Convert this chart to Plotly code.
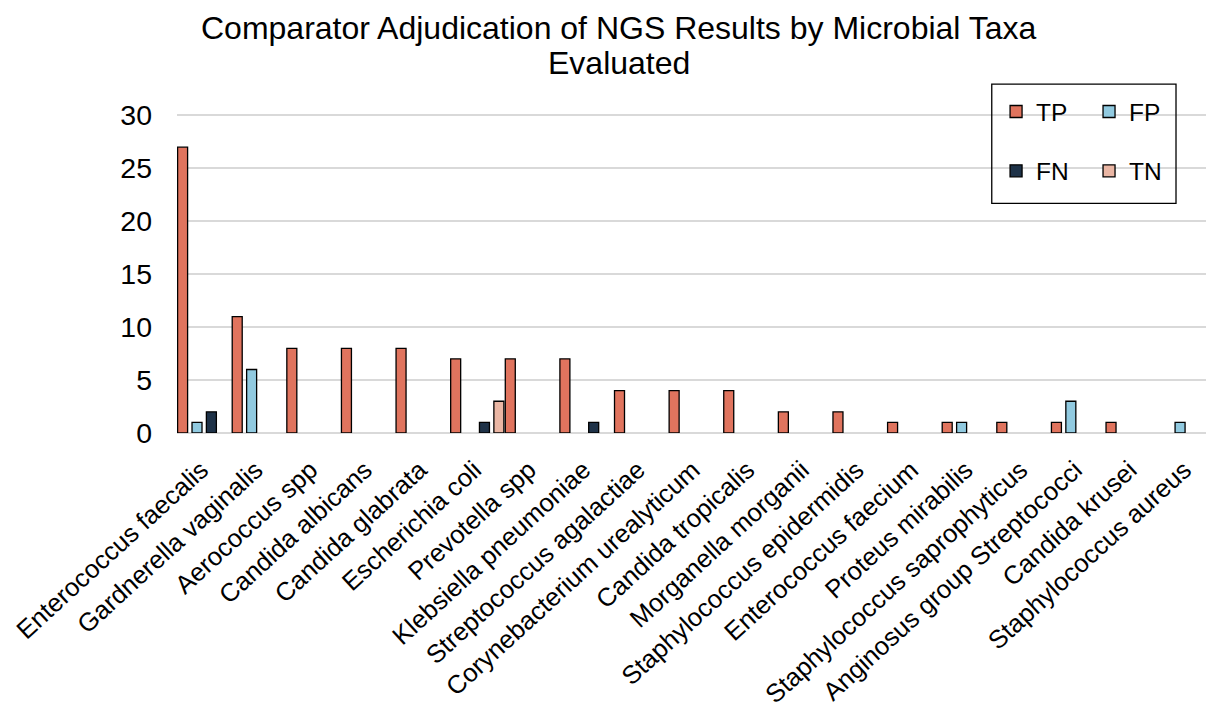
import plotly.graph_objects as go

categories = [
    "Enterococcus faecalis", "Gardnerella vaginalis", "Aerococcus spp",
    "Candida albicans", "Candida glabrata", "Escherichia coli",
    "Prevotella spp", "Klebsiella pneumoniae", "Streptococcus agalactiae",
    "Corynebacterium urealyticum", "Candida tropicalis", "Morganella morganii",
    "Staphylococcus epidermidis", "Enterococcus faecium", "Proteus mirabilis",
    "Staphylococcus saprophyticus", "Anginosus group Streptococci",
    "Candida krusei", "Staphylococcus aureus",
]
tp = [27, 11, 8, 8, 8, 7, 7, 7, 4, 4, 4, 2, 2, 1, 1, 1, 1, 1, 0]
fp = [1, 6, 0, 0, 0, 0, 0, 0, 0, 0, 0, 0, 0, 0, 1, 0, 3, 0, 1]
fn = [2, 0, 0, 0, 0, 1, 0, 1, 0, 0, 0, 0, 0, 0, 0, 0, 0, 0, 0]
tn = [0, 0, 0, 0, 0, 3, 0, 0, 0, 0, 0, 0, 0, 0, 0, 0, 0, 0, 0]
y_ticks = [0, 5, 10, 15, 20, 25, 30]
title_lines = ["Comparator Adjudication of NGS Results by Microbial Taxa", "Evaluated"]

FONT = "Liberation Sans, Arial, sans-serif"
W, H = 1206, 717
Y0PX, Y30PX = 432.7, 115.3
L, T, B = 176.7, 4.0, 717 - Y0PX
PW = W - L
PH = H - T - B
unit_px = (Y0PX - Y30PX) / 30
ymax = (Y0PX - T) / unit_px
cat_px = 54.63
xmax = -0.5 + PW / cat_px

series = [
    ("TP", tp, "#E0745E", -0.489, "legend"),
    ("FP", fp, "#91CAE0", -0.225, "legend2"),
    ("FN", fn, "#1E3248", 0.038, "legend"),
    ("TN", tn, "#EAB6A4", 0.302, "legend2"),
]

fig = go.Figure()
for name, vals, color, off, lg in series:
    fig.add_trace(go.Bar(
        x=categories, y=[v if v else None for v in vals], name=name,
        offset=off, width=0.183,
        marker=dict(color=color, line=dict(color="#000000", width=1.3)),
        legend=lg, legendgroup=name,
    ))

def px2x(p):
    return (p - L) / PW

def px2y(p):
    return (Y0PX - p) / PH

fig.update_layout(
    width=W, height=H,
    margin=dict(l=L, r=0, t=T, b=B, pad=0, autoexpand=False),
    paper_bgcolor="white", plot_bgcolor="white",
    font=dict(family=FONT, size=24, color="#000000"),
    barmode="group",
    xaxis=dict(
        type="category", range=[-0.5, xmax], tickangle=-42.5,
        showgrid=False, showline=False, zeroline=False, ticks="",
        ticklabelstandoff=16, ticklabelshift=-3, tickfont=dict(size=25.6),
        automargin=False,
    ),
    yaxis=dict(
        range=[0, ymax], tickvals=y_ticks,
        showgrid=True, gridcolor="#D9D9D9", gridwidth=1.5,
        zeroline=True, zerolinecolor="#D9D9D9", zerolinewidth=2,
        showline=False, ticks="", ticklabelstandoff=24,
        tickfont=dict(size=28.5), automargin=False,
    ),
    legend=dict(
        x=px2x(996), y=px2y(89), xanchor="left", yanchor="top",
        orientation="v", bgcolor="rgba(0,0,0,0)", borderwidth=0,
        tracegroupgap=24.5, font=dict(size=24.5), traceorder="grouped",
    ),
    legend2=dict(
        x=px2x(1089), y=px2y(89), xanchor="left", yanchor="top",
        orientation="v", bgcolor="rgba(0,0,0,0)", borderwidth=0,
        tracegroupgap=24.5, font=dict(size=24.5), traceorder="grouped",
    ),
    shapes=[dict(
        type="rect", xref="paper", yref="paper",
        x0=px2x(991.7), x1=px2x(1176), y0=px2y(203.3), y1=px2y(84),
        line=dict(color="#000000", width=1.3), fillcolor="rgba(0,0,0,0)",
        layer="above",
    )],
    annotations=[
        dict(text=title_lines[0], xref="paper", yref="paper",
             x=px2x(619), y=px2y(28), xanchor="center", yanchor="middle",
             showarrow=False, font=dict(family=FONT, size=32, color="#000000")),
        dict(text=title_lines[1], xref="paper", yref="paper",
             x=px2x(619), y=px2y(63), xanchor="center", yanchor="middle",
             showarrow=False, font=dict(family=FONT, size=32, color="#000000")),
    ],
)

fig.write_html(
    "out.html",
    config={"displayModeBar": False},
    post_script="document.body.style.margin='0';document.body.style.overflow='hidden';",
)
